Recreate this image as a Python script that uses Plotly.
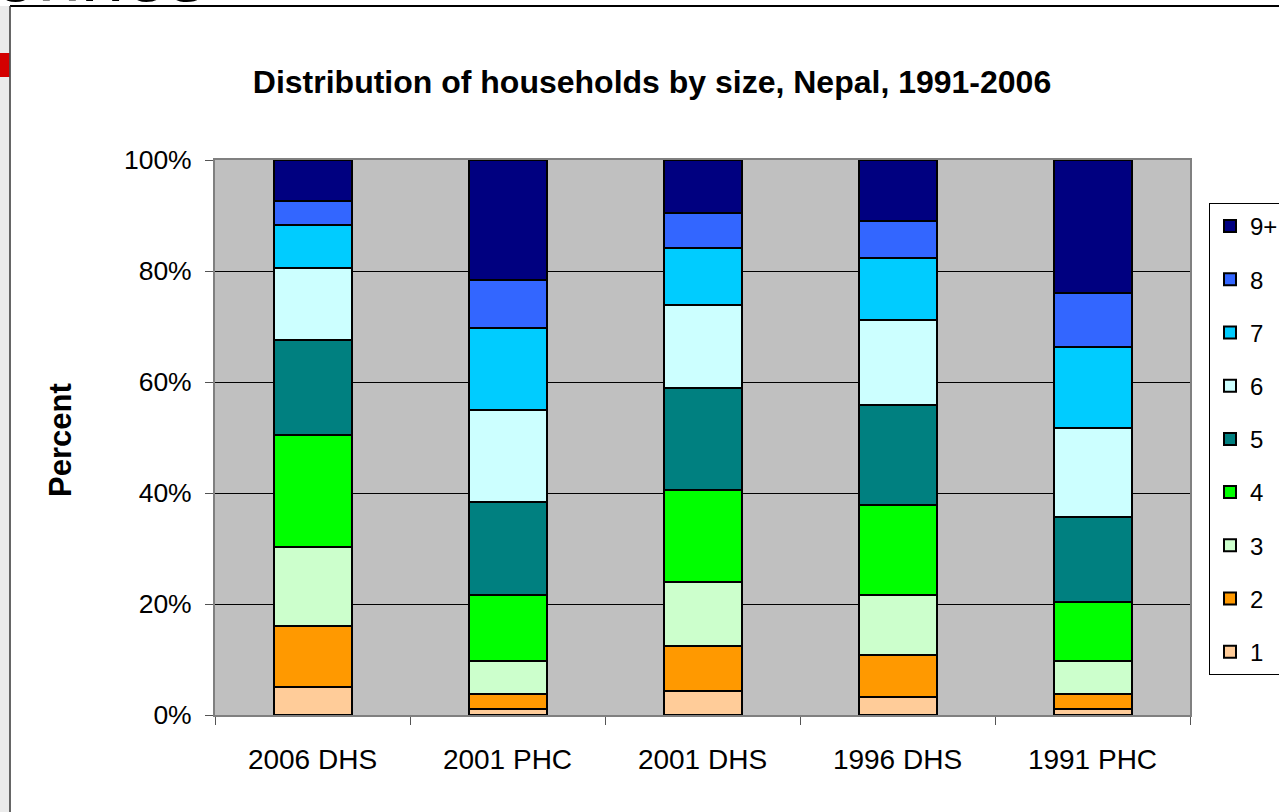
import plotly.graph_objects as go

categories = ["2006 DHS", "2001 PHC", "2001 DHS", "1996 DHS", "1991 PHC"]
size_labels = ["1", "2", "3", "4", "5", "6", "7", "8", "9+"]
share_1 = [5.1, 1.1, 4.3, 3.3, 1.0]
share_2 = [10.9, 2.7, 8.1, 7.6, 2.8]
share_3 = [14.3, 5.9, 11.6, 10.8, 5.9]
share_4 = [20.1, 12.0, 16.5, 16.1, 10.7]
share_5 = [17.1, 16.7, 18.5, 18.1, 15.3]
share_6 = [13.0, 16.6, 14.8, 15.2, 16.1]
share_7 = [7.7, 14.8, 10.3, 11.2, 14.5]
share_8 = [4.5, 8.5, 6.3, 6.7, 9.7]
share_9p = [7.3, 21.7, 9.6, 11.0, 24.0]
series = [share_1, share_2, share_3, share_4, share_5, share_6, share_7, share_8, share_9p]
colors = ["#FFCC99", "#FF9900", "#CCFFCC", "#00FF00", "#008080",
          "#CCFFFF", "#00CCFF", "#3366FF", "#000080"]

W, H = 1279, 812
L, R, T, B = 215, 1190, 160, 715
FONT = "Liberation Sans, Arial, sans-serif"

fig = go.Figure()
n = len(size_labels)
for i, (lab, vals, col) in enumerate(zip(size_labels, series, colors)):
    fig.add_trace(go.Bar(
        x=categories, y=vals, name=lab, legendgroup=lab, legendrank=1000 + (n - i),
        marker=dict(color=col, line=dict(color="black", width=2)),
    ))

def px_x(x):
    return (x - L) / (R - L)

def px_y(y):
    return (B - y) / (B - T)

shapes = [
    # slide frame pieces
    dict(type="rect", xref="paper", yref="paper", x0=px_x(0), x1=px_x(9.5), y0=px_y(H), y1=px_y(6),
         fillcolor="#ebebeb", line=dict(width=0), layer="below"),
    dict(type="rect", xref="paper", yref="paper", x0=px_x(0), x1=px_x(9.5), y0=px_y(77), y1=px_y(53),
         fillcolor="#d40000", line=dict(width=0), layer="below"),
    dict(type="line", xref="paper", yref="paper", x0=px_x(10), x1=px_x(W + 5), y0=px_y(6), y1=px_y(6),
         line=dict(color="black", width=2)),
    dict(type="line", xref="paper", yref="paper", x0=px_x(10), x1=px_x(10), y0=px_y(6), y1=px_y(H + 5),
         line=dict(color="#333333", width=1.5)),
]

fig.update_layout(
    width=W, height=H,
    margin=dict(l=L, r=W - R, t=T, b=H - B, autoexpand=False),
    paper_bgcolor="white",
    plot_bgcolor="#C0C0C0",
    barmode="stack",
    bargap=0.6,
    font=dict(family=FONT, color="black", size=24),
    title=dict(
        text="<b>Distribution of households by size, Nepal, 1991-2006</b>",
        x=652 / W, xanchor="center", y=1 - 82 / H, yanchor="middle",
        font=dict(family=FONT, size=32, color="black"),
    ),
    xaxis=dict(
        tickson="boundaries", ticks="outside", ticklen=8, tickcolor="#555555",
        showline=True, linecolor="#808080", linewidth=2, mirror=True,
        tickfont=dict(size=28), showgrid=False, ticklabelstandoff=18,
    ),
    yaxis=dict(
        range=[0, 100], dtick=20, ticksuffix="%", ticks="outside", ticklen=8,
        tickcolor="#555555", showline=True, linecolor="#808080", linewidth=2, mirror=True,
        showgrid=True, gridcolor="black", gridwidth=1, zeroline=False,
        tickfont=dict(size=26.5), ticklabelstandoff=8,
    ),
    legend=dict(
        x=px_x(1209), xanchor="left", y=px_y(203), yanchor="top",
        bgcolor="white", bordercolor="black", borderwidth=1,
        traceorder="grouped", tracegroupgap=19,
        font=dict(size=24),
    ),
    shapes=shapes,
    annotations=[
        dict(text="<b>Percent</b>", xref="paper", yref="paper", x=px_x(60), y=px_y(440),
             xanchor="center", yanchor="middle", textangle=-90, showarrow=False,
             font=dict(family=FONT, size=31, color="black")),
        dict(text="ohnes", xref="paper", yref="paper", x=px_x(-8), y=px_y(-26),
             xanchor="left", yanchor="middle", showarrow=False,
             font=dict(family=FONT, size=78, color="black")),
    ],
)

fig.write_html("out.html")
